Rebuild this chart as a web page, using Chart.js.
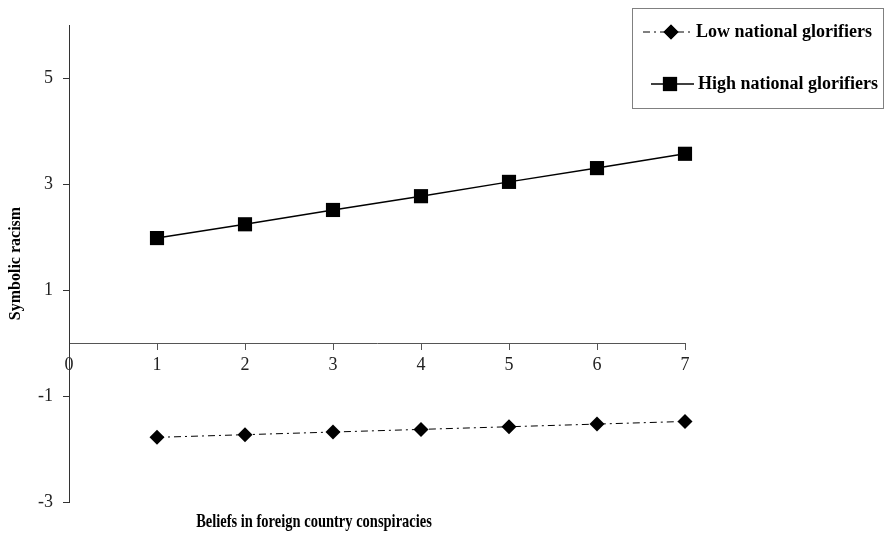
<!DOCTYPE html>
<html>
<head>
<meta charset="utf-8">
<script src="https://cdn.jsdelivr.net/npm/chart.js@4.4.1/dist/chart.umd.min.js"></script>
<style>
  html, body { margin: 0; padding: 0; background: #fff; }
  #wrap { width: 885px; height: 535px; }
</style>
</head>
<body>
<div id="wrap"><canvas id="chart" width="885" height="535"></canvas></div>
<script>
// values
var xValues = [1, 2, 3, 4, 5, 6, 7];
var lowGlorifiers = [-1.78, -1.73, -1.68, -1.63, -1.58, -1.53, -1.48];
var highGlorifiers = [1.98, 2.24, 2.51, 2.77, 3.04, 3.30, 3.57];
var xTicks = [0, 1, 2, 3, 4, 5, 6, 7];
var yTicks = [-3, -1, 1, 3, 5];
var xTitle = 'Beliefs in foreign country conspiracies';
var yTitle = 'Symbolic racism';

var serif = '"Liberation Serif", "Times New Roman", serif';

function pts(ys) {
  return xValues.map(function(x, i) { return {x: x, y: ys[i]}; });
}

// legend in a box, top right, line + marker per series
var boxLegend = {
  id: 'boxLegend',
  afterDraw: function(chart) {
    var ctx = chart.ctx;
    ctx.save();
    ctx.strokeStyle = '#808080';
    ctx.lineWidth = 1;
    ctx.strokeRect(632.5, 8.5, 251, 100);

    var rows = [
      {ds: chart.data.datasets[0], y: 32, x0: 643, x1: 692, mx: 671},
      {ds: chart.data.datasets[1], y: 84, x0: 651, x1: 694, mx: 670}
    ];
    rows.forEach(function(r) {
      ctx.strokeStyle = '#000';
      ctx.lineWidth = r.ds.borderWidth;
      ctx.setLineDash(r.ds.borderDash || []);
      ctx.beginPath();
      ctx.moveTo(r.x0, r.y);
      ctx.lineTo(r.x1, r.y);
      ctx.stroke();
      ctx.setLineDash([]);
      ctx.fillStyle = '#000';
      Chart.helpers.drawPoint(ctx, {pointStyle: r.ds.pointStyle, radius: r.ds.pointRadius, rotation: 0, borderWidth: 0}, r.mx, r.y);
      ctx.fill();
      ctx.font = 'bold 18px ' + serif;
      ctx.textBaseline = 'middle';
      ctx.textAlign = 'left';
      ctx.fillText(r.ds.label, r.x1 + 4, r.y);
    });

    // x-axis title sits at the bottom, under the whole plot (glyphs a bit tall, like the scan)
    ctx.translate(314, 522);
    ctx.scale(1, 1.3);
    ctx.font = 'bold 14.5px ' + serif;
    ctx.textAlign = 'center';
    ctx.textBaseline = 'middle';
    ctx.fillText(xTitle, 0, 0);
    ctx.restore();
  }
};

new Chart(document.getElementById('chart'), {
  type: 'line',
  data: {
    datasets: [
      {
        label: 'Low national glorifiers',
        data: pts(lowGlorifiers),
        borderColor: '#000',
        backgroundColor: '#000',
        borderWidth: 1,
        borderDash: [7, 4, 2, 4],
        pointStyle: 'rectRot',
        pointRadius: 7.5,
        pointBorderWidth: 0,
        clip: false,
        tension: 0
      },
      {
        label: 'High national glorifiers',
        data: pts(highGlorifiers),
        borderColor: '#000',
        backgroundColor: '#000',
        borderWidth: 1.5,
        pointStyle: 'rect',
        pointRadius: 10,
        pointBorderWidth: 0,
        clip: false,
        tension: 0
      }
    ]
  },
  options: {
    responsive: false,
    animation: false,
    layout: { padding: { left: 0, top: 25, right: 200, bottom: 33 } },
    plugins: {
      legend: { display: false },
      tooltip: { enabled: false }
    },
    scales: {
      x: {
        type: 'linear',
        min: 0,
        max: 7,
        position: { y: 0 },
        afterBuildTicks: function(scale) {
          scale.ticks = xTicks.map(function(v) { return {value: v}; });
        },
        grid: { drawOnChartArea: false, drawTicks: true, tickLength: 6, color: '#555' },
        border: { color: '#555', width: 1 },
        ticks: { color: '#222', padding: 5, maxRotation: 0, font: { family: serif, size: 18 } }
      },
      y: {
        min: -3,
        max: 6,
        afterBuildTicks: function(scale) {
          scale.ticks = yTicks.map(function(v) { return {value: v}; });
        },
        afterFit: function(scale) { scale.width = 69; },
        grid: { drawOnChartArea: false, drawTicks: true, tickLength: 6, color: '#333' },
        border: { color: '#333', width: 1 },
        ticks: { color: '#222', padding: 10, font: { family: serif, size: 18 } },
        title: {
          display: true,
          text: yTitle,
          color: '#000',
          padding: { top: 6, bottom: 0 },
          font: { family: serif, size: 16, weight: 'bold' }
        }
      }
    }
  },
  plugins: [boxLegend]
});
</script>
</body>
</html>
